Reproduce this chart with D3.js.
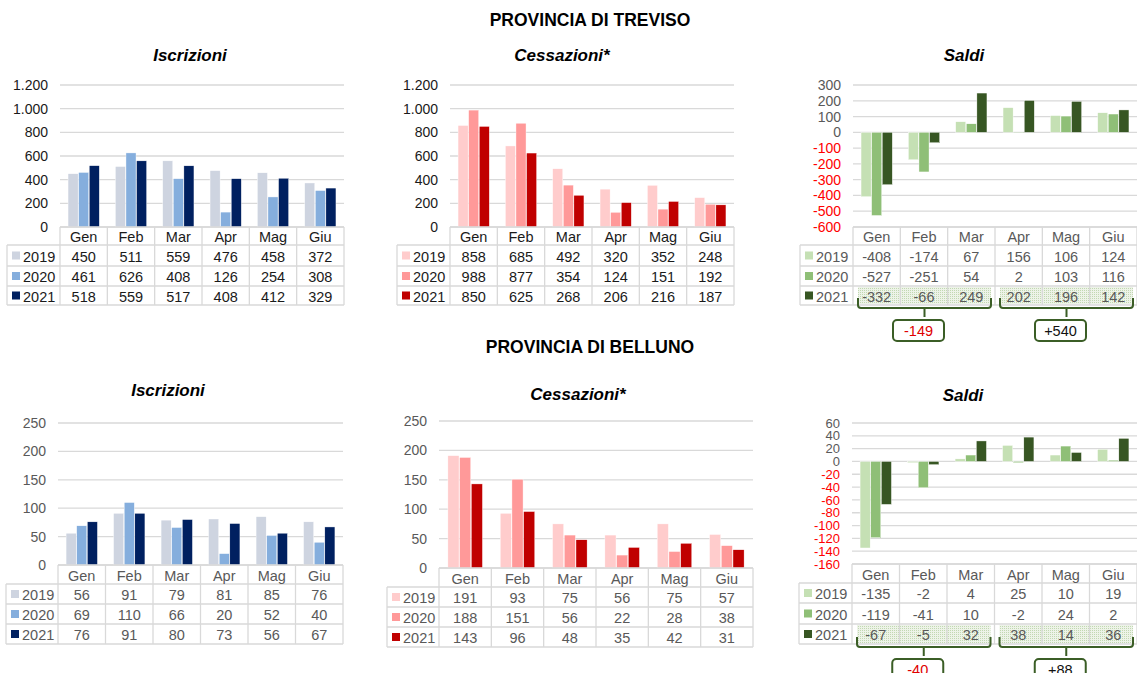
<!DOCTYPE html>
<html>
<head>
<meta charset="utf-8">
<script src="https://cdn.jsdelivr.net/npm/d3@7"></script>
<style>
  body { margin: 0; background: #fff; }
  svg { display: block; font-family: "Liberation Sans", Arial, sans-serif; }
</style>
</head>
<body>
<svg id="chart" width="1137" height="673"></svg>
<script>
'use strict';

const months = ['Gen', 'Feb', 'Mar', 'Apr', 'Mag', 'Giu'];
const years = ['2019', '2020', '2021'];

// Treviso
const tvIscrizioni = [
    [450, 511, 559, 476, 458, 372],
    [461, 626, 408, 126, 254, 308],
    [518, 559, 517, 408, 412, 329]
];
const tvCessazioni = [
    [858, 685, 492, 320, 352, 248],
    [988, 877, 354, 124, 151, 192],
    [850, 625, 268, 206, 216, 187]
];
const tvSaldi = [
    [-408, -174, 67, 156, 106, 124],
    [-527, -251, 54, 2, 103, 116],
    [-332, -66, 249, 202, 196, 142]
];

// Belluno
const blIscrizioni = [
    [56, 91, 79, 81, 85, 76],
    [69, 110, 66, 20, 52, 40],
    [76, 91, 80, 73, 56, 67]
];
const blCessazioni = [
    [191, 93, 75, 56, 75, 57],
    [188, 151, 56, 22, 28, 38],
    [143, 96, 48, 35, 42, 31]
];
const blSaldi = [
    [-135, -2, 4, 25, 10, 19],
    [-119, -41, 10, -2, 24, 2],
    [-67, -5, 32, 38, 14, 36]
];

const ticks1200 = [0, 200, 400, 600, 800, 1000, 1200];
const ticks250 = [0, 50, 100, 150, 200, 250];
const tvSaldiTicks = [-600, -500, -400, -300, -200, -100, 0, 100, 200, 300];
const blSaldiTicks = [-160, -140, -120, -100, -80, -60, -40, -20, 0, 20, 40, 60];

const iscrColors = ['#CED4E0', '#85AEDD', '#002060'];
const cessColors = ['#FFCCCC', '#FF9999', '#C00000'];
const saldiColors = ['#C5E0B4', '#8FBF77', '#375623'];

const GRID = '#D9D9D9';
const BRACE = '#3B5E26';

const it = d3.formatLocale({decimal: ',', thousands: '.', grouping: [3], currency: ['€', ''], minus: '-'});
const fmt = it.format(',d');

const svg = d3.select('#chart');

// dotted fill for the 2021 saldi cells
const pat = svg.append('defs').append('pattern')
    .attr('id', 'dots')
    .attr('patternUnits', 'userSpaceOnUse')
    .attr('width', 2)
    .attr('height', 2);
pat.append('rect').attr('width', 2).attr('height', 2).attr('fill', '#EDF3E8');
pat.append('rect').attr('width', 1).attr('height', 1).attr('fill', '#C2D8B2');

svg.append('text')
    .attr('x', 590).attr('y', 20)
    .attr('text-anchor', 'middle').attr('dominant-baseline', 'central')
    .attr('font-weight', 'bold').attr('font-size', 17.5)
    .text('PROVINCIA DI TREVISO');

svg.append('text')
    .attr('x', 590).attr('y', 347)
    .attr('text-anchor', 'middle').attr('dominant-baseline', 'central')
    .attr('font-weight', 'bold').attr('font-size', 17.5)
    .text('PROVINCIA DI BELLUNO');

const panels = [
    {data: tvIscrizioni, ticks: ticks1200, colors: iscrColors, title: 'Iscrizioni',
        left: 60, right: 344, gridRight: 344, top: 85, bottom: 227, legendLeft: 7,
        rows: [245, 266, 286, 305], titleX: 190, titleY: 55, ink: '#1a1a1a', tickSize: 14},
    {data: tvCessazioni, ticks: ticks1200, colors: cessColors, title: 'Cessazioni*',
        left: 450, right: 734, gridRight: 734, top: 85, bottom: 227, legendLeft: 397,
        rows: [245, 266, 286, 305], titleX: 562, titleY: 55, ink: '#1a1a1a', tickSize: 14},
    {data: tvSaldi, ticks: tvSaldiTicks, colors: saldiColors, title: 'Saldi',
        left: 853, right: 1137, gridRight: 1137, top: 85, bottom: 227, legendLeft: 800,
        rows: [245, 266, 286, 305], titleX: 964, titleY: 55, ink: '#595959', tickSize: 14, braces: true},
    {data: blIscrizioni, ticks: ticks250, colors: iscrColors, title: 'Iscrizioni',
        left: 58, right: 343, gridRight: 343, top: 423, bottom: 565, legendLeft: 6,
        rows: [584, 604, 624, 644], titleX: 168, titleY: 390, ink: '#595959', tickSize: 14},
    {data: blCessazioni, ticks: ticks250, colors: cessColors, title: 'Cessazioni*',
        left: 439, right: 753, gridRight: 753, top: 421, bottom: 568, legendLeft: 387,
        rows: [587, 607, 627, 647], titleX: 578, titleY: 394, ink: '#595959', tickSize: 14},
    {data: blSaldi, ticks: blSaldiTicks, colors: saldiColors, title: 'Saldi',
        left: 852, right: 1137, gridRight: 1137, top: 423, bottom: 564, legendLeft: 799,
        rows: [583, 603, 624, 644], titleX: 963, titleY: 395, ink: '#595959', tickSize: 13, braces: true}
];

panels.forEach(drawPanel);

function drawPanel(p) {
    const g = svg.append('g');

    const y = d3.scaleLinear()
        .domain(d3.extent(p.ticks))
        .range([p.bottom, p.top]);
    const x0 = d3.scaleBand()
        .domain(months)
        .range([p.left, p.right]);
    const bw = x0.bandwidth();
    const x1 = d3.scaleBand()
        .domain(years)
        .range([bw * 0.17, bw * 0.83])
        .paddingInner(0.05);

    g.append('text')
        .attr('x', p.titleX).attr('y', p.titleY)
        .attr('text-anchor', 'middle').attr('dominant-baseline', 'central')
        .attr('font-weight', 'bold').attr('font-style', 'italic')
        .attr('font-size', 17)
        .text(p.title);

    // gridlines
    g.append('g').selectAll('line')
        .data(p.ticks)
        .join('line')
        .attr('x1', p.left).attr('x2', p.gridRight)
        .attr('y1', d => y(d)).attr('y2', d => y(d))
        .attr('stroke', GRID).attr('stroke-width', 1.3);

    // y axis labels
    const yAxis = d3.axisLeft(y).tickValues(p.ticks).tickFormat(fmt).tickSize(0).tickPadding(12);
    const ag = g.append('g')
        .attr('transform', 'translate(' + p.left + ',0)')
        .call(yAxis);
    ag.select('.domain').remove();
    ag.selectAll('text')
        .attr('font-family', '"Liberation Sans", Arial, sans-serif')
        .attr('font-size', p.tickSize)
        .attr('fill', d => d < 0 ? '#FF0000' : p.ink);

    // bars
    const cells = [];
    p.data.forEach(function(series, j) {
        series.forEach(function(v, i) {
            cells.push({month: months[i], year: years[j], value: v, color: p.colors[j]});
        });
    });
    g.append('g').selectAll('rect')
        .data(cells)
        .join('rect')
        .attr('x', d => x0(d.month) + x1(d.year))
        .attr('width', x1.bandwidth())
        .attr('y', d => y(Math.max(0, d.value)))
        .attr('height', d => Math.abs(y(d.value) - y(0)))
        .attr('fill', d => d.color)
        .attr('stroke', '#fff').attr('stroke-width', 0.4);

    // data table
    const t = g.append('g');
    const rowTop = [p.bottom].concat(p.rows.slice(0, 3));
    const rowBot = p.rows;

    if (p.braces) {
        [[0, 3], [3, 6]].forEach(function(r) {
            t.append('rect')
                .attr('x', x0(months[r[0]]) + 5)
                .attr('width', x0(months[r[1] - 1]) + bw - 4 - (x0(months[r[0]]) + 5))
                .attr('y', rowTop[3] + 1)
                .attr('height', rowBot[3] - rowTop[3] - 2)
                .attr('fill', 'url(#dots)');
        });
    }

    // horizontal lines
    const hl = [{y: rowTop[0], x: p.left}].concat(rowBot.map(v => ({y: v, x: p.legendLeft})));
    t.selectAll('line.h')
        .data(hl)
        .join('line')
        .attr('class', 'h')
        .attr('x1', d => d.x).attr('x2', p.right)
        .attr('y1', d => d.y).attr('y2', d => d.y)
        .attr('stroke', GRID).attr('stroke-width', 1.3);
    // vertical lines
    const vl = months.map(m => x0(m)).concat([p.right]);
    t.selectAll('line.v')
        .data(vl)
        .join('line')
        .attr('class', 'v')
        .attr('x1', d => d).attr('x2', d => d)
        .attr('y1', rowTop[0]).attr('y2', rowBot[3])
        .attr('stroke', GRID).attr('stroke-width', 1.3);
    t.append('line')
        .attr('x1', p.legendLeft).attr('x2', p.legendLeft)
        .attr('y1', rowTop[1]).attr('y2', rowBot[3])
        .attr('stroke', GRID).attr('stroke-width', 1.3);

    // header
    t.selectAll('text.m')
        .data(months)
        .join('text')
        .attr('class', 'm')
        .attr('x', d => x0(d) + bw / 2)
        .attr('y', (rowTop[0] + rowBot[0]) / 2 + 1)
        .attr('text-anchor', 'middle').attr('dominant-baseline', 'central')
        .attr('font-size', 14.5).attr('fill', p.ink)
        .text(d => d);

    // legend keys
    years.forEach(function(yr, j) {
        const cy = (rowTop[j + 1] + rowBot[j + 1]) / 2;
        t.append('rect')
            .attr('x', p.legendLeft + 5).attr('y', cy - 4)
            .attr('width', 8).attr('height', 8)
            .attr('fill', p.colors[j]);
        t.append('text')
            .attr('x', p.legendLeft + 16).attr('y', cy + 1)
            .attr('dominant-baseline', 'central')
            .attr('font-size', 14.5).attr('fill', p.ink)
            .text(yr);
    });

    // values
    t.selectAll('text.v')
        .data(cells)
        .join('text')
        .attr('class', 'v')
        .attr('x', d => x0(d.month) + bw / 2)
        .attr('y', d => {
            const j = years.indexOf(d.year);
            return (rowTop[j + 1] + rowBot[j + 1]) / 2 + 1;
        })
        .attr('text-anchor', 'middle').attr('dominant-baseline', 'central')
        .attr('font-size', 14.5).attr('fill', p.ink)
        .text(d => fmt(d.value));

    if (p.braces) {
        const last = p.data[2];
        const yb = rowBot[3];
        [[0, 3], [3, 6]].forEach(function(r) {
            const xa = x0(months[r[0]]) + 5;
            const xb = x0(months[r[1] - 1]) + bw - 4;
            const cx = (xa + xb) / 2;
            const y0 = yb - 7;
            const y1 = yb + 3;
            const rr = 3;
            const path = d3.path();
            path.moveTo(xa, y0);
            path.lineTo(xa, y1 - rr);
            path.quadraticCurveTo(xa, y1, xa + rr, y1);
            path.lineTo(xb - rr, y1);
            path.quadraticCurveTo(xb, y1, xb, y1 - rr);
            path.lineTo(xb, y0);
            path.moveTo(cx, y1);
            path.lineTo(cx, yb + 12);
            t.append('path')
                .attr('d', path.toString())
                .attr('fill', 'none')
                .attr('stroke', BRACE).attr('stroke-width', 2);

            const sum = d3.sum(last.slice(r[0], r[1]));
            const bx = cx - 6 - 25.5;
            t.append('rect')
                .attr('x', bx).attr('y', yb + 15)
                .attr('width', 51).attr('height', 21)
                .attr('rx', 4)
                .attr('fill', '#fff')
                .attr('stroke', BRACE).attr('stroke-width', 2);
            t.append('text')
                .attr('x', bx + 25.5).attr('y', yb + 26)
                .attr('text-anchor', 'middle').attr('dominant-baseline', 'central')
                .attr('font-size', 14.5)
                .attr('fill', sum < 0 ? '#E00000' : '#111')
                .text(sum > 0 ? '+' + sum : fmt(sum));
        });
    }
}
</script>
</body>
</html>
